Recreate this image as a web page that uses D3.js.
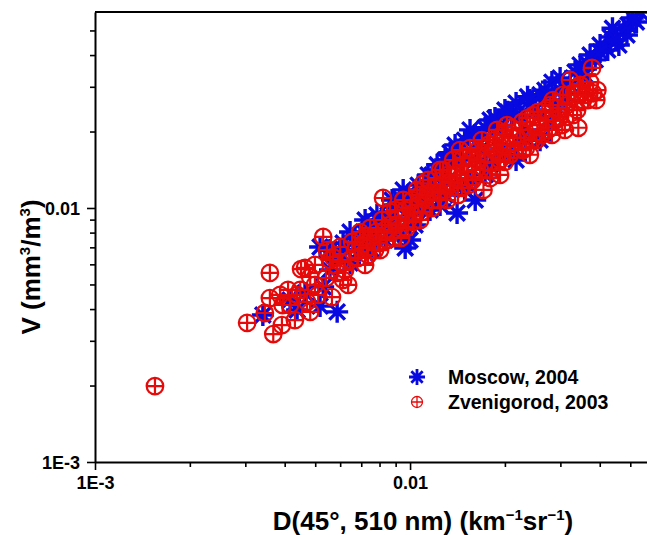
<!DOCTYPE html>
<html lang="en">
<head>
<meta charset="UTF-8">
<title>V vs D scatter</title>
<script src="https://d3js.org/d3.v7.min.js"></script>
<style>
  body { margin: 0; background: #fff; }
  text { font-family: "Liberation Sans", Arial, sans-serif; font-weight: bold; fill: #000; }
</style>
</head>
<body>
<div id="chart"></div>
<script>
// Moscow, 2004 (blue asterisks)
var moscowD = [0.00341, 0.00587, 0.00438, 0.00518, 0.00416, 0.00530, 0.00557, 0.00613, 0.00645, 0.00518,
               0.00578, 0.00464, 0.00694, 0.00757, 0.00803, 0.00851, 0.00896, 0.00951, 0.00965, 0.0100,
               0.00916, 0.01037, 0.01076, 0.01116, 0.01175, 0.01245, 0.0134, 0.0141, 0.01292, 0.0146,
               0.0155, 0.0165, 0.01795, 0.0193, 0.0204, 0.0217, 0.0236, 0.0217, 0.02234, 0.0250,
               0.0268, 0.0282, 0.02994, 0.0322, 0.0364, 0.0387, 0.0424, 0.0432, 0.0460, 0.0477,
               0.0523, 0.0537, 0.01157, 0.0155, 0.01795, 0.0193, 0.0139, 0.00720, 0.00833, 0.0161,
               0.02586, 0.0233, 0.00645, 0.00757, 0.01037, 0.01668, 0.0288, 0.0359, 0.00557, 0.0401,
               0.0488, 0.0439, 0.0132,
               0.00669, 0.00736, 0.00785, 0.00877, 0.00930, 0.00986, 0.01061, 0.01141, 0.01219, 0.01292,
               0.0139, 0.0149, 0.0161, 0.0173, 0.0186, 0.0200, 0.0210, 0.02404, 0.02586, 0.0274,
               0.02994, 0.0334, 0.03465, 0.03728, 0.0401, 0.0451, 0.0492, 0.0509, 0.00622, 0.00694,
               0.00864, 0.01015, 0.01116, 0.01245, 0.0149, 0.0173, 0.0200, 0.0233, 0.02783, 0.0311];
var moscowV = [0.00379, 0.00390, 0.00397, 0.00411, 0.00434, 0.00489, 0.00683, 0.00728, 0.00607, 0.00702,
               0.00653, 0.00463, 0.00748, 0.00804, 0.00881, 0.00938, 0.01028, 0.01178, 0.00696, 0.00748,
               0.00819, 0.01028, 0.01125, 0.0123, 0.0135, 0.01411, 0.0165, 0.00956, 0.01125, 0.01545,
               0.0203, 0.0185, 0.0222, 0.0212, 0.0239, 0.0259, 0.0274, 0.01545, 0.0232, 0.0243,
               0.0291, 0.0313, 0.0291, 0.0305, 0.0372, 0.0383, 0.0419, 0.0471, 0.0438, 0.0502,
               0.0540, 0.0591, 0.00982, 0.01289, 0.0148, 0.0169, 0.0123, 0.00897, 0.00748, 0.01075,
               0.0185, 0.0203, 0.00804, 0.00683, 0.00857, 0.0169, 0.0254, 0.0334, 0.00570, 0.0438,
               0.0480, 0.0510, 0.01545,
               0.00762, 0.00804, 0.00938, 0.01075, 0.01095, 0.01125, 0.0123, 0.0135, 0.0148, 0.01545,
               0.0177, 0.0185, 0.0194, 0.0207, 0.0226, 0.0243, 0.0232, 0.0266, 0.0279, 0.0279,
               0.0325, 0.0343, 0.0366, 0.0400, 0.0411, 0.0459, 0.0525, 0.0560, 0.00683, 0.00683,
               0.00819, 0.00938, 0.01028, 0.01028, 0.01178, 0.0135, 0.0162, 0.0185, 0.0222, 0.0266];

// Zvenigorod, 2003 (red crossed circles)
var zvenD = [0.00155, 0.00304, 0.00368, 0.00392, 0.00431, 0.00359, 0.00359, 0.00451, 0.00482, 0.00346,
             0.00482, 0.00410, 0.00438, 0.00471, 0.00511, 0.00565, 0.00530, 0.00557, 0.00587, 0.00636,
             0.00464, 0.00569, 0.00600, 0.00499, 0.00416, 0.00387, 0.00645, 0.00669, 0.00704, 0.00736,
             0.00757, 0.00791, 0.00821, 0.00833, 0.00864, 0.00883, 0.00916, 0.00930, 0.00965, 0.00986,
             0.01015, 0.01037, 0.01076, 0.0110, 0.01116, 0.01157, 0.0120, 0.01228, 0.01264, 0.01292,
             0.01321, 0.0136, 0.0139, 0.0144, 0.0144, 0.0149, 0.0153, 0.0157, 0.0161, 0.0165,
             0.0171, 0.0173, 0.0177, 0.0182, 0.0186, 0.0190, 0.0196, 0.0200, 0.0204, 0.0210,
             0.0214, 0.0219, 0.0227, 0.0233, 0.0240, 0.0246, 0.0252, 0.02586, 0.0268, 0.0274,
             0.0284, 0.0290, 0.02994, 0.0306, 0.0315, 0.0322, 0.0332, 0.0339, 0.03465, 0.0359,
             0.0378, 0.0381, 0.0393, 0.0367, 0.00720, 0.00774, 0.00694, 0.00896, 0.01076, 0.01245,
             0.01175, 0.0142, 0.0193, 0.0240, 0.0282, 0.0342, 0.0310,
             0.00600, 0.00622, 0.00655, 0.00684, 0.00709, 0.00730, 0.00747, 0.00780, 0.00803, 0.00815,
             0.00845, 0.00864, 0.00877, 0.00903, 0.00937, 0.00951, 0.00972, 0.0100, 0.01022, 0.01053,
             0.01061, 0.01092, 0.01133, 0.01141, 0.01184, 0.01210, 0.01245, 0.01273, 0.01311, 0.0134,
             0.0137, 0.0141, 0.0146, 0.0147, 0.0152, 0.0155, 0.0158, 0.0163, 0.01668, 0.0169,
             0.0176, 0.01795, 0.0184, 0.0189, 0.0193, 0.0197, 0.0203, 0.02077, 0.0212, 0.02234,
             0.0228, 0.0236, 0.0244, 0.0255, 0.0262, 0.0270, 0.02783, 0.0295, 0.0304, 0.0317,
             0.0329, 0.0354, 0.03728, 0.0390, 0.0341, 0.00613, 0.00541, 0.00499, 0.00545, 0.00394,
             0.00448];
var zvenV = [0.00199, 0.00353, 0.00319, 0.00346, 0.00362, 0.00555, 0.00442, 0.00575, 0.00535, 0.00386,
             0.00390, 0.00476, 0.00455, 0.00427, 0.00455, 0.00446, 0.00769, 0.00624, 0.00555, 0.00498,
             0.00581, 0.00641, 0.00702, 0.00498, 0.00415, 0.00455, 0.00624, 0.00683, 0.00715, 0.00653,
             0.00762, 0.00728, 0.01095, 0.00819, 0.00857, 0.00762, 0.00913, 0.00834, 0.00982, 0.00897,
             0.01075, 0.00956, 0.01125, 0.0125, 0.01028, 0.0115, 0.0120, 0.01075, 0.01289, 0.01178,
             0.0135, 0.0125, 0.0144, 0.0169, 0.0131, 0.0148, 0.0123, 0.0157, 0.01411, 0.0169,
             0.01178, 0.0152, 0.0177, 0.01411, 0.0185, 0.0162, 0.0194, 0.0152, 0.0177, 0.0207,
             0.0169, 0.0189, 0.0218, 0.0172, 0.0203, 0.0232, 0.0185, 0.0212, 0.0243, 0.0203,
             0.0266, 0.0222, 0.0228, 0.0279, 0.0254, 0.0319, 0.0286, 0.0243, 0.0305, 0.0279,
             0.0356, 0.0283, 0.0291, 0.0266, 0.00597, 0.00683, 0.00804, 0.00982, 0.00897, 0.01411,
             0.0100, 0.01125, 0.0135, 0.0162, 0.0194, 0.0207, 0.0203,
             0.00613, 0.00570, 0.00735, 0.00636, 0.00762, 0.00696, 0.00834, 0.00804, 0.00683, 0.00897,
             0.00748, 0.00965, 0.00804, 0.00857, 0.00762, 0.01075, 0.00834, 0.0100, 0.00881, 0.01178,
             0.01028, 0.00965, 0.01125, 0.01289, 0.01075, 0.0131, 0.01156, 0.01411, 0.01075, 0.01266,
             0.01545, 0.0135, 0.0120, 0.0157, 0.0139, 0.0172, 0.01289, 0.01545, 0.01411, 0.0185,
             0.0162, 0.0131, 0.0169, 0.0203, 0.01545, 0.0177, 0.0212, 0.0162, 0.0189, 0.0203,
             0.0169, 0.0226, 0.0185, 0.0239, 0.0194, 0.0222, 0.0254, 0.0248, 0.0212, 0.0279,
             0.0232, 0.0266, 0.0313, 0.0266, 0.0279, 0.00521, 0.0053, 0.00597, 0.00683, 0.00415,
             0.00476];

var xMajor = [0.001, 0.01], xMajorLabels = ["1E-3", "0.01"];
var yMajor = [0.001, 0.01], yMajorLabels = ["1E-3", "0.01"];
var xMinor = [0.002, 0.003, 0.004, 0.005, 0.006, 0.007, 0.008, 0.009, 0.02, 0.03, 0.04, 0.05];
var yMinor = [0.002, 0.003, 0.004, 0.005, 0.006, 0.007, 0.008, 0.009, 0.02, 0.03, 0.04, 0.05];
var seriesNames = ["Moscow, 2004", "Zvenigorod, 2003"];

var width = 647, height = 535;
var pLeft = 95, pRight = 647, pTop = 12, pBottom = 462;

var svg = d3.select("#chart").append("svg")
    .attr("width", width)
    .attr("height", height);

var x = d3.scaleLog().domain([0.001, 0.0565]).range([pLeft, pRight]);
var y = d3.scaleLog().domain([0.001, 0.0591]).range([pBottom, pTop]);

var blue = "#0808e0", red = "#e60a0a";

svg.append("clipPath").attr("id", "plotclip")
  .append("rect").attr("x", pLeft).attr("y", pTop).attr("width", pRight - pLeft + 20).attr("height", pBottom - pTop);

// asterisk path, 8 arms
function star(r) {
    var p = "";
    for (var i = 0; i < 4; i++) {
        var a = i * Math.PI / 4;
        var dx = r * Math.cos(a), dy = r * Math.sin(a);
        p += "M" + (-dx) + "," + (-dy) + "L" + dx + "," + dy;
    }
    return p;
}
function crossCircle(g, r, sw) {
    g.append("circle").attr("r", r).attr("fill", "none").attr("stroke", red).attr("stroke-width", sw);
    g.append("path").attr("d", "M" + (-r) + ",0L" + r + ",0M0," + (-r) + "L0," + r)
        .attr("stroke", red).attr("stroke-width", sw);
}

var plot = svg.append("g").attr("clip-path", "url(#plotclip)");

var moscow = moscowD.map(function(d, i) { return [d, moscowV[i]]; });
var zven = zvenD.map(function(d, i) { return [d, zvenV[i]]; });

plot.selectAll(".m").data(moscow).enter().append("path")
    .attr("class", "m")
    .attr("transform", function(d) { return "translate(" + x(d[0]) + "," + y(d[1]) + ")"; })
    .attr("d", star(11))
    .attr("stroke", blue)
    .attr("stroke-width", 3.4)
    .attr("fill", "none");

plot.selectAll(".z").data(zven).enter().append("g")
    .attr("class", "z")
    .attr("transform", function(d) { return "translate(" + x(d[0]) + "," + y(d[1]) + ")"; })
    .each(function() { crossCircle(d3.select(this), 8.3, 2.2); });

// axes
var xAxis = svg.append("g").attr("transform", "translate(0," + pBottom + ")")
    .call(d3.axisBottom(x).tickValues(xMajor).tickSize(8).tickSizeOuter(0)
        .tickFormat(function(d, i) { return xMajorLabels[i]; }));
svg.append("g").attr("transform", "translate(0," + pBottom + ")")
    .call(d3.axisBottom(x).tickValues(xMinor).tickSize(5).tickFormat(""))
    .select(".domain").remove();

var yAxis = svg.append("g").attr("transform", "translate(" + pLeft + ",0)")
    .call(d3.axisLeft(y).tickValues(yMajor).tickSize(8).tickSizeOuter(0)
        .tickFormat(function(d, i) { return yMajorLabels[i]; }));
svg.append("g").attr("transform", "translate(" + pLeft + ",0)")
    .call(d3.axisLeft(y).tickValues(yMinor).tickSize(5).tickFormat(""))
    .select(".domain").remove();

svg.selectAll(".domain").attr("stroke-width", 2);
svg.selectAll(".tick line").attr("stroke-width", 1.6);
svg.selectAll(".tick text")
    .style("font-family", "'Liberation Sans', Arial, sans-serif")
    .style("font-weight", "bold")
    .style("font-size", "18px");
xAxis.selectAll("text").attr("y", 0).attr("dy", 0).attr("transform", "translate(0,27)");
yAxis.selectAll("text").attr("x", -15).attr("dy", "0.35em");

svg.append("line").attr("x1", pLeft).attr("x2", pRight).attr("y1", pTop).attr("y2", pTop)
    .attr("stroke", "#000").attr("stroke-width", 2);

// axis titles
var xt = svg.append("text").attr("x", 423).attr("y", 530).attr("text-anchor", "middle").attr("font-size", 26);
xt.append("tspan").text("D(45\u00b0, 510 nm) (km");
xt.append("tspan").text("\u22121").attr("font-size", 15).attr("dy", -10);
xt.append("tspan").text("sr").attr("dy", 10);
xt.append("tspan").text("\u22121").attr("font-size", 15).attr("dy", -10);
xt.append("tspan").text(")").attr("dy", 10);

var yt = svg.append("text").attr("transform", "translate(40,267) rotate(-90)")
    .attr("text-anchor", "middle").attr("font-size", 26);
yt.append("tspan").text("V (mm");
yt.append("tspan").text("3").attr("font-size", 15).attr("dy", -10);
yt.append("tspan").text("/m").attr("dy", 10);
yt.append("tspan").text("3").attr("font-size", 15).attr("dy", -10);
yt.append("tspan").text(")").attr("dy", 10);

// legend
var lg = svg.append("g");
lg.append("path").attr("transform", "translate(417,377)").attr("d", star(8))
    .attr("stroke", blue).attr("stroke-width", 2.8).attr("fill", "none");
crossCircle(lg.append("g").attr("transform", "translate(417,402)"), 5.5, 1.3);
lg.selectAll(".lt").data(seriesNames).enter().append("text")
    .attr("x", 448).attr("y", function(d, i) { return 384 + i * 25; })
    .attr("font-size", 19.5).text(function(d) { return d; });
</script>
</body>
</html>
